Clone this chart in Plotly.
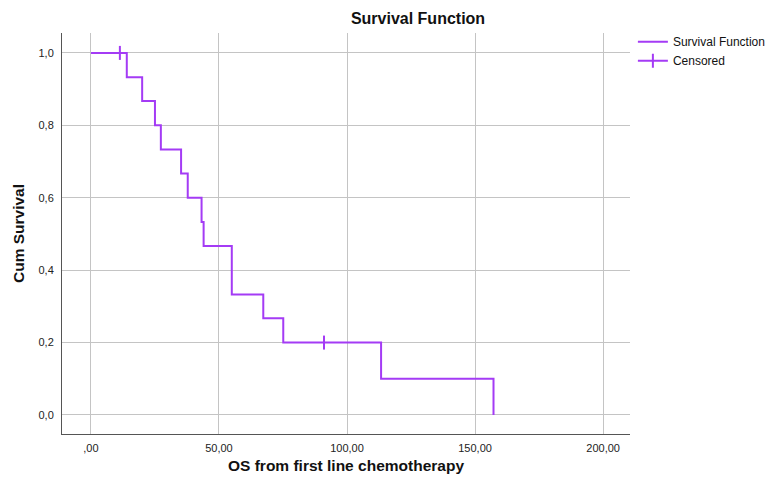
import plotly.graph_objects as go

# Kaplan-Meier step data (time, cumulative survival)
step_time = [0, 14.0, 20.0, 25.0, 27.3, 35.2, 37.8, 43.2, 44.0, 55.0, 67.3, 75.1, 113.3, 157.2]
step_surv = [1.0, 0.933, 0.867, 0.800, 0.733, 0.667, 0.600, 0.533, 0.467, 0.333, 0.267, 0.200, 0.100, 0.0]
censor_time = [11.3, 91.0]
censor_surv = [1.0, 0.2]

x_tickvals = [0, 50, 100, 150, 200]
x_ticktext = [",00", "50,00", "100,00", "150,00", "200,00"]
y_tickvals = [0, 0.2, 0.4, 0.6, 0.8, 1.0]
y_ticktext = ["0,0", "0,2", "0,4", "0,6", "0,8", "1,0"]

purple = "#A43BF5"

fig = go.Figure()
fig.add_trace(go.Scatter(
    x=step_time, y=step_surv, mode="lines", line=dict(color=purple, width=2, shape="hv"),
    name="Survival Function"))
cx, cy = [], []
for t, s in zip(censor_time, censor_surv):
    cx += [t, None]
    cy += [s, None]
fig.add_trace(go.Scatter(
    x=cx, y=cy, mode="lines+markers", line=dict(color=purple, width=2),
    marker=dict(symbol="line-ns-open", size=10, color=purple, line=dict(color=purple, width=2)),
    name="Censored"))

font = "Liberation Sans, Arial, sans-serif"
fig.update_layout(
    width=769, height=485,
    margin=dict(l=62, r=139, t=33, b=51, autoexpand=False),
    plot_bgcolor="white", paper_bgcolor="white",
    font=dict(family=font, size=11, color="#222"),
    title=dict(text="<b>Survival Function</b>", xref="container", x=0.5436, xanchor="center",
               yref="container", y=0.963, yanchor="middle",
               font=dict(size=16, color="#111")),
    legend=dict(xref="container", x=0.823, xanchor="left", yref="container", y=0.944, yanchor="top",
                font=dict(size=12, color="#111"),
                tracegroupgap=0, itemwidth=30, bgcolor="rgba(0,0,0,0)"),
    xaxis=dict(range=[-11.3, 210.5], tickvals=x_tickvals, ticktext=x_ticktext,
               showgrid=True, gridcolor="#C4C4C4", gridwidth=1, zeroline=False,
               showline=True, linecolor="#555", linewidth=1, ticks="",
               ticklabelstandoff=4,
               title=dict(text="<b>OS from first line chemotherapy</b>", font=dict(size=15.5, color="#111"), standoff=6)),
    yaxis=dict(range=[-0.0525, 1.055], tickvals=y_tickvals, ticktext=y_ticktext,
               showgrid=True, gridcolor="#C4C4C4", gridwidth=1, zeroline=False,
               showline=True, linecolor="#555", linewidth=1, ticks="",
               ticklabelstandoff=5,
               title=dict(text="<b>Cum Survival</b>", font=dict(size=15.5, color="#111"), standoff=10)),
)
fig.write_html("out.html")
